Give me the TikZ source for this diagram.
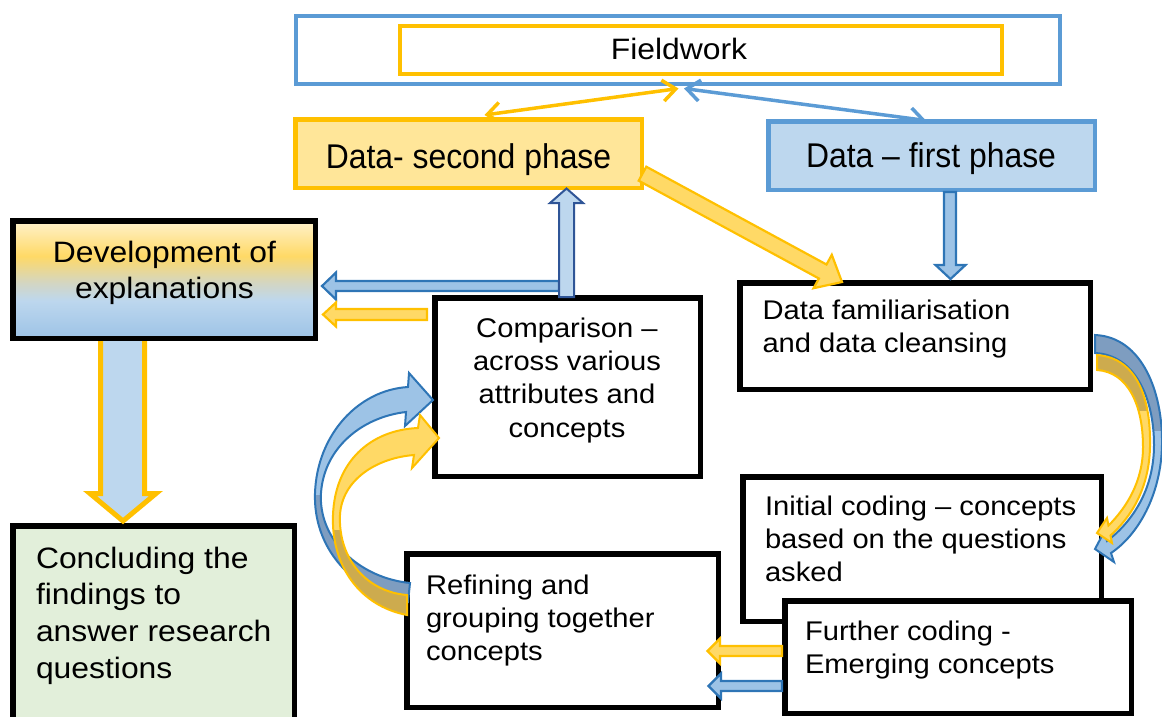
\documentclass[tikz,border=0pt]{standalone}
\usepackage{fontspec}
\setmainfont{Liberation Sans}[FakeStretch=1.08]
\newfontfamily\datafont{Liberation Sans}[FakeStretch=0.93]
\usetikzlibrary{arrows.meta}
\definecolor{cgold}{HTML}{FFC000}
\definecolor{cgoldfill}{HTML}{FFD966}
\definecolor{cgoldlight}{HTML}{FFE699}
\definecolor{cgolddeep}{HTML}{CDAB4E}
\definecolor{cblue}{HTML}{5B9BD5}
\definecolor{cbluedark}{HTML}{2E75B6}
\definecolor{cnavy}{HTML}{2F5597}
\definecolor{cbluefill}{HTML}{9DC3E6}
\definecolor{cbluelight}{HTML}{BDD7EE}
\definecolor{cbluedeep}{HTML}{7E9DC0}
\definecolor{cgreen}{HTML}{E2EFDA}
\definecolor{cpale}{HTML}{FFF2CC}
\definecolor{cmix}{HTML}{D3D6C3}
\pgfdeclareverticalshading{devshade}{100bp}{color(0bp)=(cbluefill); color(25bp)=(cbluefill); color(41bp)=(cbluelight); color(48.5bp)=(cmix); color(60bp)=(cgoldfill); color(75bp)=(cpale); color(100bp)=(cpale)}
\newcommand{\LinesL}[1]{\vtop{\halign{##\hfil\cr#1\crcr}}}
\newcommand{\LinesC}[1]{\vtop{\halign{\hfil##\hfil\cr#1\crcr}}}
\newcommand{\bigsz}{\fontsize{29.5}{36.7}\selectfont}
\newcommand{\smallsz}{\fontsize{27}{33.3}\selectfont}
\newcommand{\datasz}{\datafont\fontsize{34.3}{40}\selectfont}
\newcommand{\pBlueR}{(1095,335) .. controls (1142,337) and (1163,392) .. (1162,445) .. controls (1161,495) and (1138,535) .. (1111,553) -- (1114,562) -- (1095,549) -- (1104,532) -- (1107,541) .. controls (1132,522) and (1154,490) .. (1154,445) .. controls (1154,398) and (1135,355) .. (1095,353) -- cycle}
\newcommand{\pGoldR}{(1097,355) .. controls (1138,358) and (1151,400) .. (1150,447) .. controls (1149,490) and (1130,518) .. (1110.5,535.5) -- (1112,543) -- (1097,533) -- (1107,518) -- (1108.5,525.5) .. controls (1126,508) and (1143,482) .. (1143,447) .. controls (1143,405) and (1128,372) .. (1097,370) -- cycle}
\newcommand{\pBlueL}{(408,602) .. controls (352,592) and (313,548) .. (315,493) .. controls (317,435) and (358,390) .. (408,387) -- (409,373) -- (433,400) -- (405,426) -- (406,412) .. controls (362,417) and (324,448) .. (321,493) .. controls (318,540) and (360,578) .. (410,583) -- cycle}
\newcommand{\pGoldL}{(407,615) .. controls (360,606) and (331,566) .. (333,515) .. controls (335,462) and (370,430) .. (418,428) -- (420,415) -- (439,438) -- (412,468) -- (414,455) .. controls (376,458) and (342,480) .. (340,515) .. controls (338,560) and (368,592) .. (407,595) -- cycle}
\begin{document}
\begin{tikzpicture}[x=1pt,y=-1pt,
  blackbox/.style={draw=black, line width=5.5pt, fill=white, inner sep=0pt, outer sep=0pt},
  colbox/.style={inner sep=0pt, outer sep=0pt},
  txt/.style={inner sep=0pt, outer sep=0pt},
  goldblk/.style={draw=cgold, fill=cgoldfill, line width=2.2pt, line join=miter, miter limit=10},
  blueblk/.style={draw=cbluedark, fill=cbluefill, line width=2.2pt, line join=miter, miter limit=10},
  navyblk/.style={draw=cnavy, fill=cbluelight, line width=2pt, line join=miter, miter limit=10},
  goldline/.style={draw=cgold, line width=3.5pt, <->, >={Straight Barb[length=13pt,width=21pt]}},
  blueline/.style={draw=cblue, line width=3.5pt, <->, >={Straight Barb[length=13pt,width=21pt]}},
  curvedge/.style={line width=2pt, line join=miter}
]
\useasboundingbox (0,0) rectangle (1162,716);
\clip (0,0) rectangle (1162,716);

% Fieldwork
\node[colbox, draw=cblue, line width=4.5pt, minimum width=764pt, minimum height=68pt] (fieldouter) at (678,50) {};
\node[colbox, draw=cgold, line width=4.5pt, minimum width=602pt, minimum height=48pt] (fieldinner) at (701,50) {};
\node[txt, anchor=base, font=\bigsz] (tfield) at (679,59) {Fieldwork};

% data phases
\coordinate (fwY) at (678.5,88.5);
\coordinate (dsY) at (484.5,115);
\coordinate (fwB) at (684,88.5);
\coordinate (dfB) at (926,120.5);
\draw[goldline] (dsY) -- (fwY);
\draw[blueline] (fwB) -- (dfB);

\node[colbox, draw=cgold, fill=cgoldlight, line width=4.5pt, minimum width=346.5pt, minimum height=68.5pt] (dsecond) at (468.5,153.5) {};
\node[txt, anchor=base, font=\datasz] (tsecond) at (468.5,168) {Data- second phase};
\node[colbox, draw=cblue, fill=cbluelight, line width=4.5pt, minimum width=326.5pt, minimum height=68.5pt] (dfirst) at (931.5,155.5) {};
\node[txt, anchor=base, font=\datasz] (tfirst) at (931,167) {Data – first phase};

% left column
\node[blackbox, fill=cgreen, minimum width=281.5pt, minimum height=234pt] (concl) at (153.5,642.9) {};
\draw[draw=cgold, fill=cbluelight, line width=5pt, line join=miter, miter limit=10] (100.5,336) -- (100.5,493.5) -- (90,493.5) -- (123,521) -- (156,493.5) -- (144.5,493.5) -- (144.5,336) -- cycle;
\node[draw=black, line width=5.5pt, shade, shading=devshade, inner sep=0pt, outer sep=0pt, minimum width=302.5pt, minimum height=117.5pt] (devel) at (164,279.5) {};

% black boxes
\node[blackbox, minimum width=265.5pt, minimum height=178.5pt] (compar) at (567.5,387) {};
\node[blackbox, minimum width=350.5pt, minimum height=106.5pt] (dfam) at (915,336) {};
\node[blackbox, minimum width=358.5pt, minimum height=144.5pt] (initc) at (922,549) {};
\node[blackbox, minimum width=346.5pt, minimum height=112.5pt] (furth) at (958,657) {};
\node[blackbox, minimum width=311.5pt, minimum height=153.5pt] (refin) at (562.5,630.5) {};

% straight block arrows
\draw[goldblk] (646.3,166.7) -- (826.5,264.5) -- (831.8,254.8) -- (842,282) -- (813.6,288.2) -- (818.9,278.5) -- (638.7,180.7) -- cycle;
\draw[blueblk] (944,192) -- (944,265) -- (935.5,265) -- (950.5,279) -- (965.5,265) -- (956,265) -- (956,192) -- cycle;
\draw[blueblk] (559,281) -- (336,281) -- (336,272.5) -- (322,286) -- (336,299.5) -- (336,291) -- (559,291) -- cycle;
\draw[navyblk] (559,297) -- (559,203) -- (550,203) -- (566.5,188.5) -- (583,203) -- (574,203) -- (574,297) -- cycle;
\draw[goldblk] (427,309) -- (336,309) -- (336,302.5) -- (323,314.5) -- (336,326.5) -- (336,320) -- (427,320) -- cycle;
\draw[goldblk] (782,646) -- (720,646) -- (720,638.5) -- (707.5,651) -- (720,663.5) -- (720,656) -- (782,656) -- cycle;
\draw[blueblk] (782,681) -- (721,681) -- (721,673.5) -- (708.5,686) -- (721,698.5) -- (721,691) -- (782,691) -- cycle;

% curved arrows right
\fill[cbluefill] \pBlueR;
\begin{scope}\clip (1080,300) rectangle (1170,430); \fill[cbluedeep] \pBlueR; \end{scope}
\draw[cbluedark, curvedge] \pBlueR;
\fill[cgoldfill] \pGoldR;
\begin{scope}\clip (1080,300) rectangle (1170,410); \fill[cgolddeep] \pGoldR; \end{scope}
\draw[cgold, curvedge] \pGoldR;

% curved arrows left
\fill[cbluefill] \pBlueL;
\begin{scope}\clip (300,495) rectangle (440,620); \fill[cbluedeep] \pBlueL; \end{scope}
\draw[cbluedark, curvedge] \pBlueL;
\fill[cgoldfill] \pGoldL;
\begin{scope}\clip (300,530) rectangle (440,620); \fill[cgolddeep] \pGoldL; \end{scope}
\draw[cgold, curvedge] \pGoldL;

% texts
\node[txt, anchor=base, font=\bigsz] (tdevel) at (164.5,262) {\LinesC{Development of\cr explanations}};
\node[txt, anchor=base west, font=\bigsz] (tconcl) at (36,568) {\LinesL{Concluding the\cr findings to\cr answer research\cr questions}};
\node[txt, anchor=base, font=\smallsz] (tcompar) at (567,337.3) {\LinesC{Comparison –\cr across various\cr attributes and\cr concepts}};
\node[txt, anchor=base west, font=\smallsz] (tdfam) at (762.5,319.3) {\LinesL{Data familiarisation\cr and data cleansing}};
\node[txt, anchor=base west, font=\smallsz] (tinit) at (765,515) {\LinesL{Initial coding – concepts\cr based on the questions\cr asked}};
\node[txt, anchor=base west, font=\smallsz] (tfurth) at (805,640) {\LinesL{Further coding -\cr Emerging concepts}};
\node[txt, anchor=base west, font=\smallsz] (trefin) at (426,594.3) {\LinesL{Refining and\cr grouping together\cr concepts}};
\end{tikzpicture}
\end{document}
